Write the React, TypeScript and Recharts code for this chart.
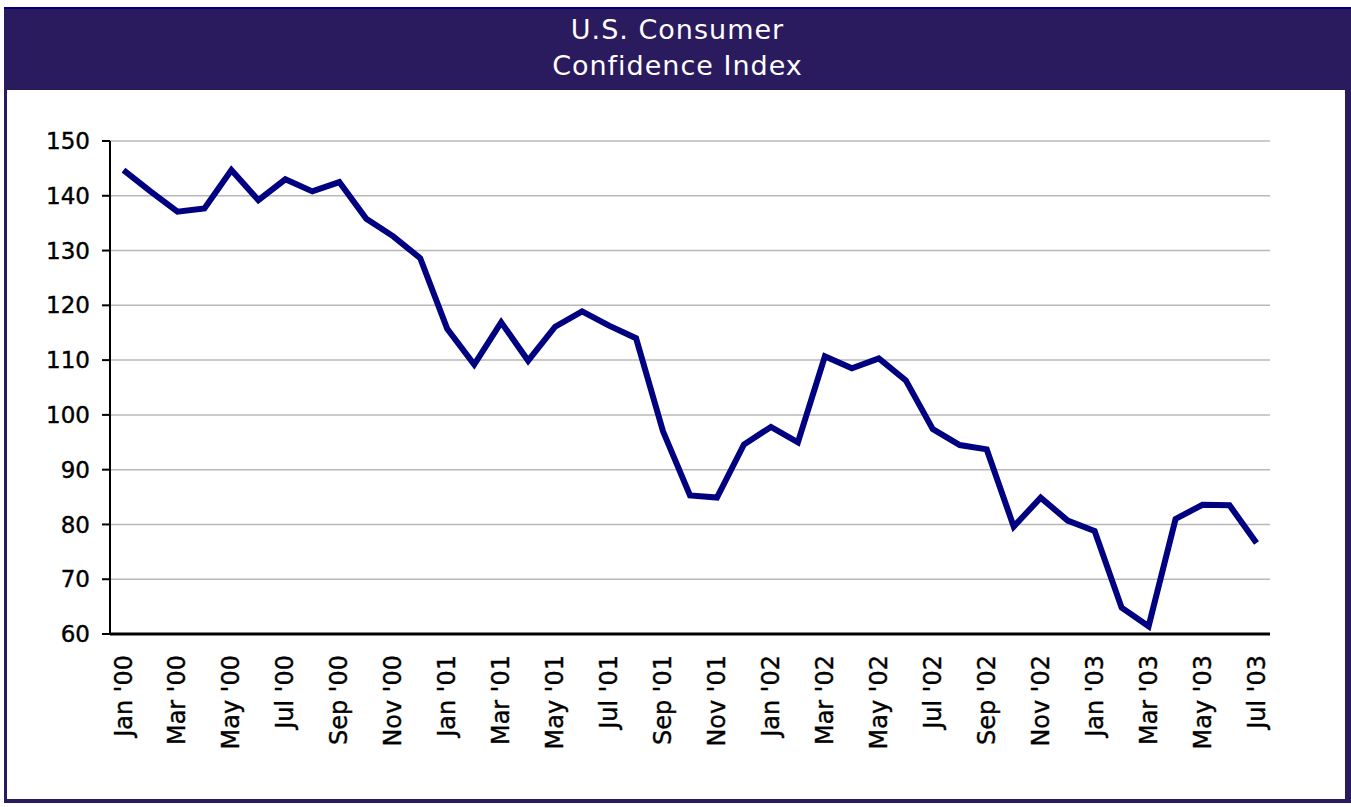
import { LineChart, Line, XAxis, YAxis, CartesianGrid } from 'recharts';

const months = [
  "Jan '00", "Feb '00", "Mar '00", "Apr '00", "May '00", "Jun '00", "Jul '00", "Aug '00", "Sep '00", "Oct '00", "Nov '00", "Dec '00",
  "Jan '01", "Feb '01", "Mar '01", "Apr '01", "May '01", "Jun '01", "Jul '01", "Aug '01", "Sep '01", "Oct '01", "Nov '01", "Dec '01",
  "Jan '02", "Feb '02", "Mar '02", "Apr '02", "May '02", "Jun '02", "Jul '02", "Aug '02", "Sep '02", "Oct '02", "Nov '02", "Dec '02",
  "Jan '03", "Feb '03", "Mar '03", "Apr '03", "May '03", "Jun '03", "Jul '03",
];

const confidence = [
  144.7, 140.8, 137.1, 137.7, 144.7, 139.2, 143.0, 140.8, 142.5, 135.8, 132.6, 128.6,
  115.7, 109.2, 116.9, 109.9, 116.1, 118.9, 116.3, 114.0, 97.0, 85.3, 84.9, 94.6,
  97.8, 95.0, 110.7, 108.5, 110.3, 106.3, 97.4, 94.5, 93.7, 79.6, 84.9, 80.7,
  78.8, 64.8, 61.4, 81.0, 83.6, 83.5, 76.6,
];

const yTicks = [60, 70, 80, 90, 100, 110, 120, 130, 140, 150];

const data = months.map((month, i) => ({ month, value: confidence[i] }));

const FONT = '"DejaVu Sans", Verdana, sans-serif';

function MonthTick(props: any) {
  const { x, y, payload } = props;
  return (
    <g transform={`translate(${x + 8},${y + 21})`}>
      <text
        transform="rotate(-90)"
        textAnchor="end"
        fontSize={24}
        fontFamily={FONT}
        fill="#000"
        stroke="#000"
        strokeWidth={0.4}
      >
        {payload.value}
      </text>
    </g>
  );
}

export default function App() {
  return (
    <div style={{ position: 'absolute', left: 0, top: 0, width: 1351, height: 807, background: '#fff' }}>
      {/* frame + header band */}
      <div
        style={{
          position: 'absolute',
          left: 4,
          top: 7,
          width: 1338,
          height: 792,
          borderLeft: '3px solid #2a1a5e',
          borderRight: '6px solid #2a1a5e',
          borderBottom: '4px solid #2a1a5e',
        }}
      />
      <div
        style={{
          position: 'absolute',
          left: 4,
          top: 7,
          width: 1347,
          height: 83,
          background: '#2a1a5e',
          borderTop: '2px solid #000080',
          color: '#fff',
          fontFamily: FONT,
          fontSize: 27,
          lineHeight: '36px',
          textAlign: 'center',
          paddingTop: 3,
          boxSizing: 'border-box',
          letterSpacing: 1,
        }}
      >
        <div>U.S. Consumer</div>
        <div>Confidence Index</div>
      </div>

      <div style={{ position: 'absolute', left: 0, top: 0 }}>
        <LineChart width={1351} height={807} data={data} margin={{ top: 141, right: 81, bottom: 0, left: 0 }}>
          <CartesianGrid vertical={false} stroke="#b8b8b8" strokeWidth={1.5} />
          <XAxis
            dataKey="month"
            interval={1}
            height={173}
            tickSize={0}
            tickMargin={0}
            tickLine={false}
            axisLine={{ stroke: '#000', strokeWidth: 3 }}
            padding={{ left: 13.5, right: 13.5 }}
            tick={<MonthTick />}
          />
          <YAxis
            type="number"
            domain={[60, 150]}
            ticks={yTicks}
            width={110}
            tickSize={8}
            tickMargin={12}
            axisLine={{ stroke: '#000', strokeWidth: 2 }}
            tickLine={{ stroke: '#000', strokeWidth: 2 }}
            tick={{ fill: '#000', fontSize: 23, fontFamily: FONT, stroke: '#000', strokeWidth: 0.4 }}
          />
          <Line
            type="linear"
            dataKey="value"
            stroke="#000080"
            strokeWidth={6}
            dot={false}
            isAnimationActive={false}
          />
        </LineChart>
      </div>
    </div>
  );
}
